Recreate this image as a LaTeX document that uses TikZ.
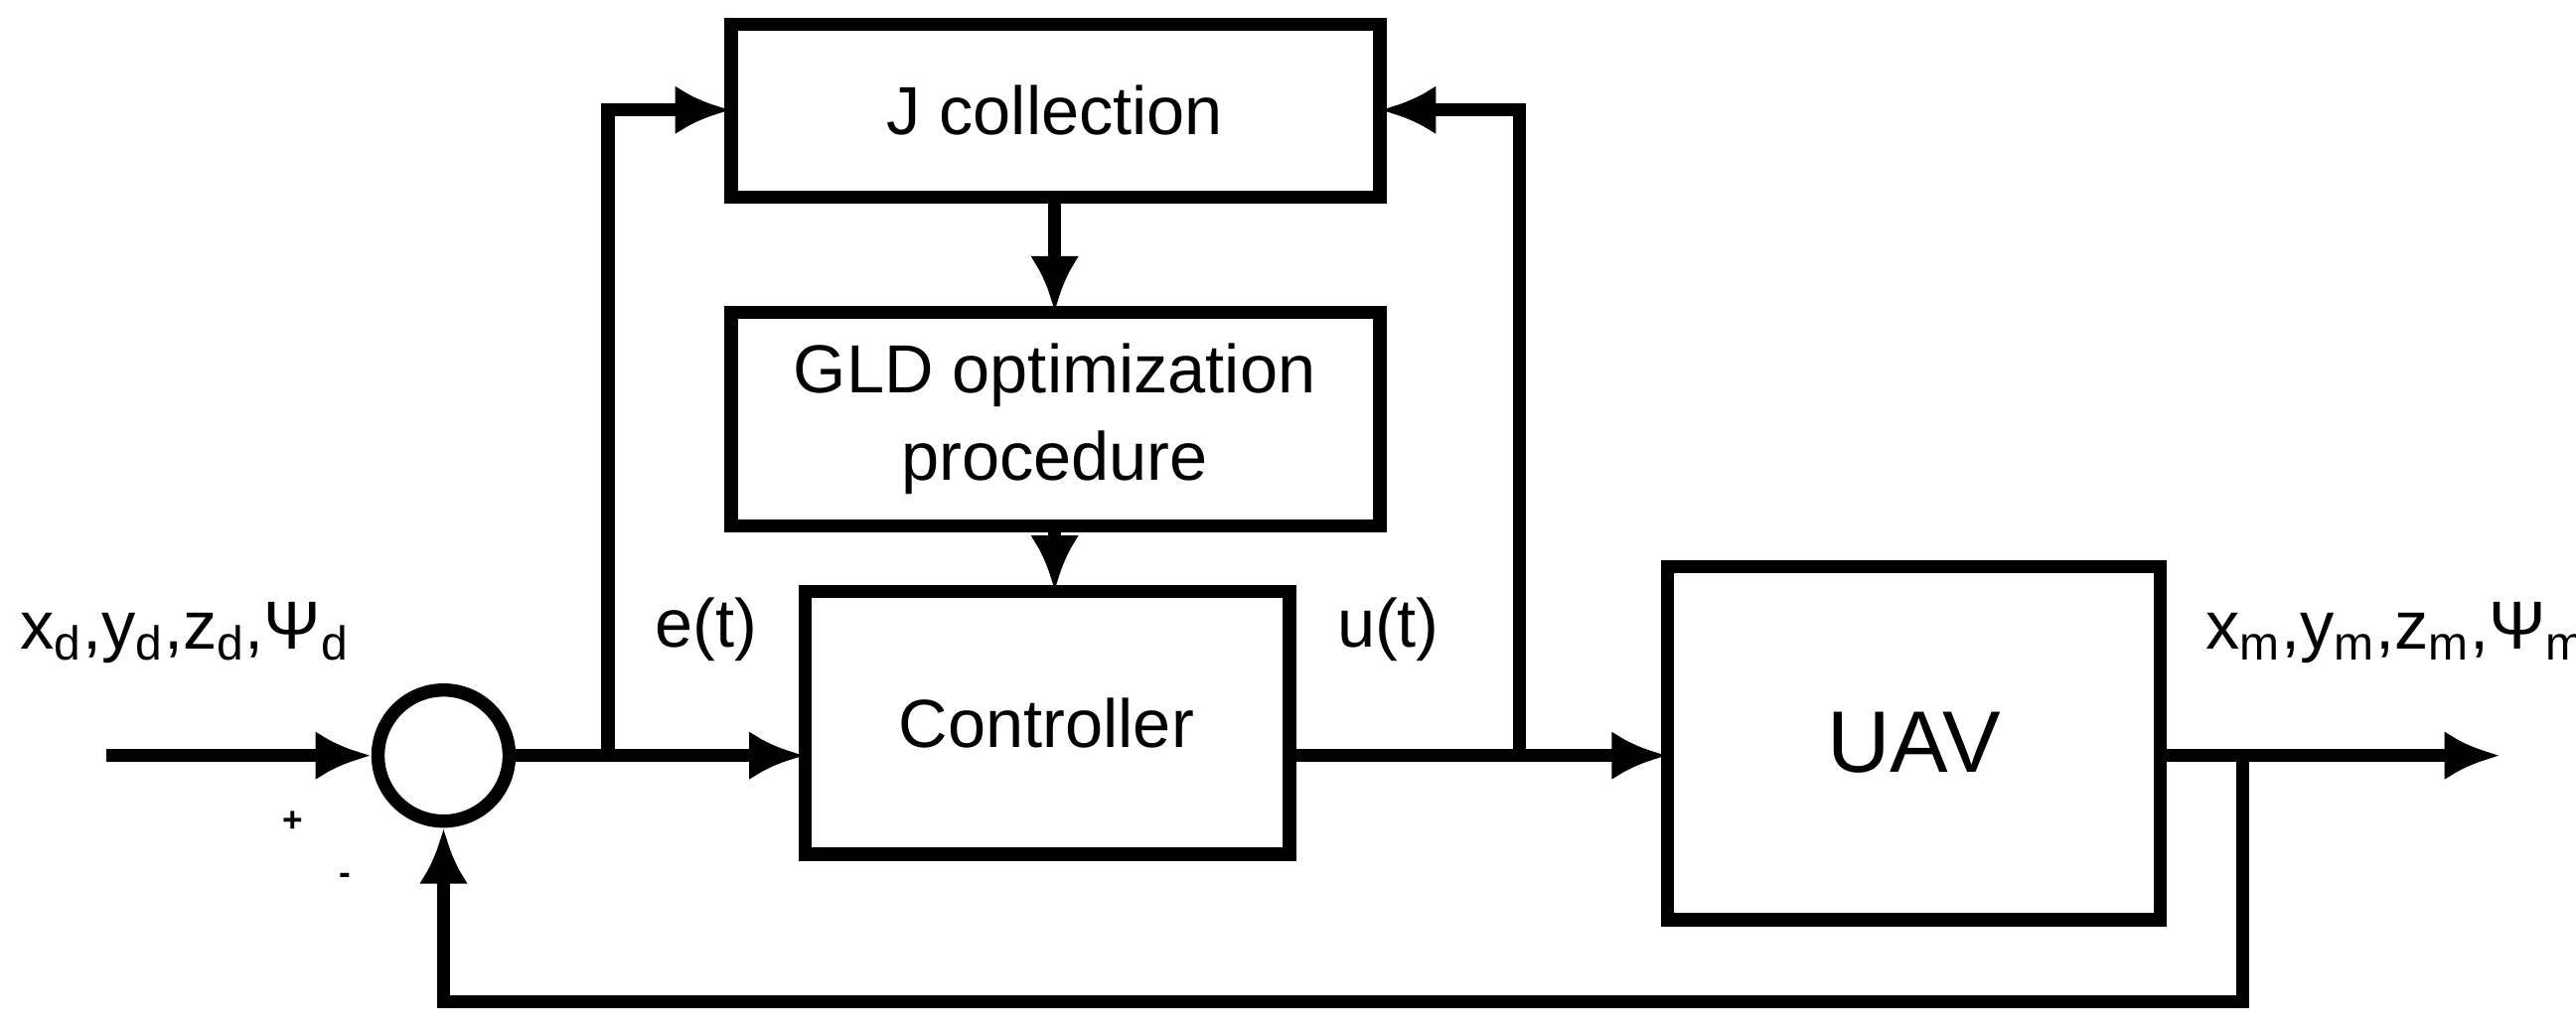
\documentclass[tikz,border=0pt]{standalone}
\usepackage{fontspec}
\setmainfont{Liberation Sans}
\usetikzlibrary{arrows.meta}
\begin{document}
\begin{tikzpicture}[x=0.01654cm,y=-0.01654cm,
  blk/.style={draw,line width=3.8pt,minimum width=0,inner sep=0},
  ln/.style={line width=3.8pt},
  ar/.style={ln,-{Latex[length=16pt,width=14pt]}},
  lbl/.style={font=\fontsize{19.5}{25}\selectfont}]
\useasboundingbox (0,0) rectangle (1568,629.5);
\draw[blk] (445,15) rectangle (840,120);
\node[lbl] (J) at (642,67) {J collection};
\coordinate (Jl) at (445,67); \coordinate (Jr) at (840,67);
\draw[blk] (445,190) rectangle (840,320);
\node[lbl,align=center] (G) at (642,255) {GLD optimization\\procedure};
\draw[blk] (490,360) rectangle (785,520);
\node[lbl] (C) at (637,440) {Controller};
\draw[blk] (1015,345) rectangle (1315,560);
\node[font=\fontsize{25}{30}\selectfont] (U) at (1165,452) {UAV};
\node[draw,circle,line width=3.8pt,minimum size=1.32cm,inner sep=0] (S) at (270,460) {};
\coordinate (in) at (65,460);
\draw[ar] (in) -- (S.west);
\draw[ar] (S.east) -- (490,460);
\draw[ar] (370,460) -- (370,67) -- (Jl);
\draw[ar] (785,460) -- (1015,460);
\draw[ar] (925,460) -- (925,67) -- (Jr);
\draw[ar] (642,120) -- (642,190);
\draw[ar] (642,320) -- (642,360);
\draw[ar] (1315,460) -- (1522,460);
\draw[ar] (1365,460) -- (1365,610) -- (270,610) -- (S.south);
\node[lbl,anchor=west] at (5,385) {x\textsubscript{d},y\textsubscript{d},z\textsubscript{d},Ψ\textsubscript{d}};
\node[lbl] at (430,383) {e(t)};
\node[lbl] at (845,383) {u(t)};
\node[lbl,anchor=west] at (1335,385) {x\textsubscript{m},y\textsubscript{m},z\textsubscript{m},Ψ\textsubscript{m}};
\node[lbl,font=\bfseries] at (178,500) {+};
\node[lbl,font=\bfseries] at (210,535) {-};
\end{tikzpicture}
\end{document}
